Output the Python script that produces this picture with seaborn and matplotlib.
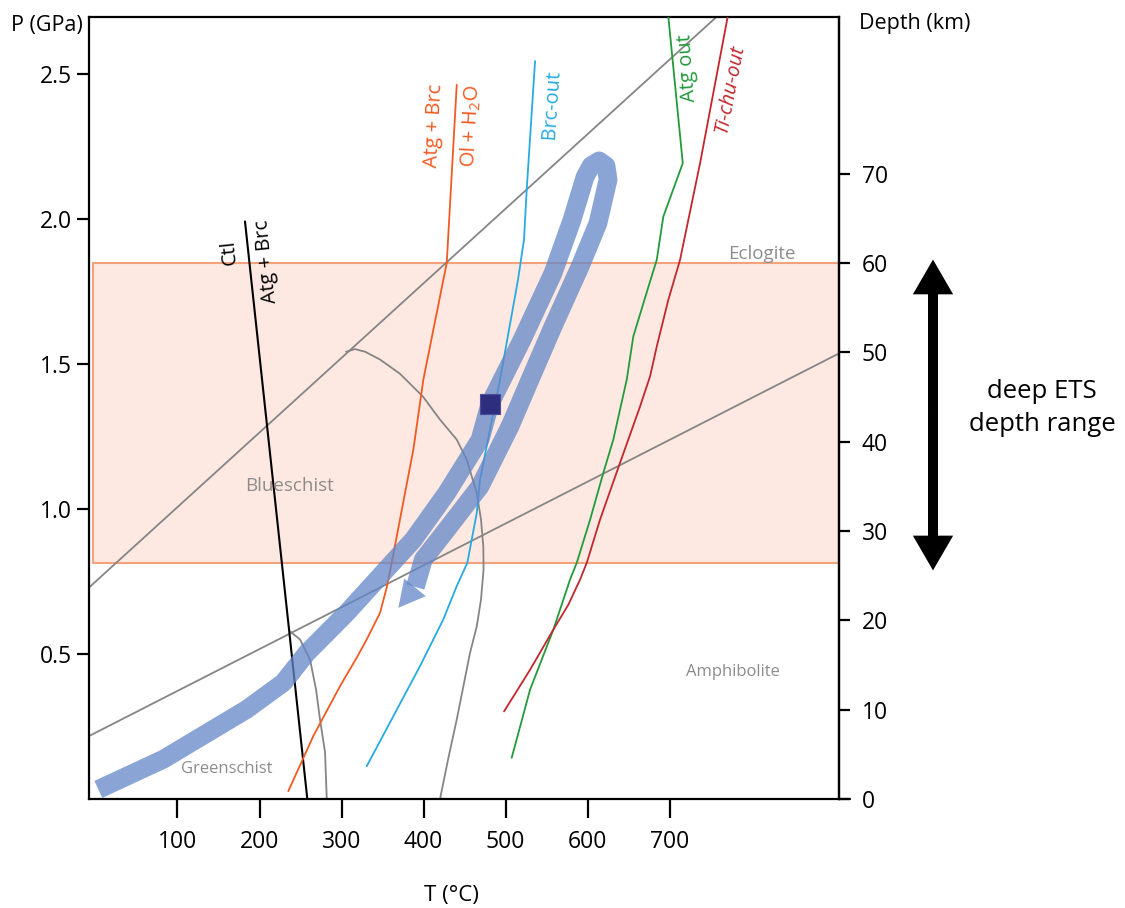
import numpy as np
import pandas as pd
import matplotlib
matplotlib.use("Agg")
import matplotlib.pyplot as plt
from matplotlib.patches import ArrowStyle
import seaborn as sns

# ---------------- data (T in °C, P in GPa) ----------------
KM_PER_GPA = 32.48

ctl_T = [182.3, 258.3]
ctl_P = [1.991, 0.0]

atg_brc_T = [440.5, 428.3, 399.8, 387.6, 371.3, 361.2, 355.1, 347.0, 330.7, 318.5, 298.2, 265.6, 235.1]
atg_brc_P = [2.462, 1.848, 1.446, 1.205, 0.964, 0.814, 0.729, 0.642, 0.550, 0.487, 0.389, 0.217, 0.027]

brc_out_T = [536.0, 525.8, 522.5, 515.2, 493.3, 485.1, 468.9, 464.9, 453.4, 440.5, 424.1, 395.7, 330.7]
brc_out_P = [2.544, 2.100, 1.928, 1.790, 1.446, 1.331, 1.101, 0.986, 0.814, 0.734, 0.619, 0.458, 0.113]

atg_out_T = [698.5, 716.1, 692.4, 684.4, 675.0, 655.8, 647.8, 631.4, 619.2, 603.0, 586.8, 578.6, 558.3, 529.9, 507.5]
atg_out_P = [2.697, 2.192, 2.008, 1.859, 1.773, 1.595, 1.446, 1.239, 1.124, 0.962, 0.814, 0.756, 0.584, 0.377, 0.142]

tichu_out_T = [770.9, 737.2, 712.8, 698.5, 684.4, 676.2, 664.0, 639.6, 615.2, 599.0, 590.8, 576.6, 558.3, 530.0, 498.2]
tichu_out_P = [2.697, 2.192, 1.859, 1.721, 1.560, 1.457, 1.353, 1.159, 0.963, 0.814, 0.756, 0.670, 0.584, 0.446, 0.302]

# metamorphic facies boundaries
facies_upper_T = [-7.9, 757.5]
facies_upper_P = [0.729, 2.697]
facies_lower_T = [-7.9, 905.8]
facies_lower_P = [0.217, 1.535]
facies_arc_T = [305.5, 316.5, 328.7, 347.0, 371.3, 399.4, 420.1, 440.5, 452.7, 464.9, 470.1,
                472.9, 473.2, 470.1, 464.9, 456.7, 440.5, 429.9, 420.1]
facies_arc_P = [1.542, 1.551, 1.542, 1.515, 1.466, 1.387, 1.308, 1.239, 1.170, 1.055, 0.963,
                0.870, 0.791, 0.688, 0.595, 0.504, 0.274, 0.136, 0.0]
facies_gs_T = [237.2, 249.4, 261.6, 268.9, 273.8, 279.9, 282.0]
facies_gs_P = [0.578, 0.550, 0.481, 0.378, 0.274, 0.161, 0.0]

# P-T path (prograde then retrograde)
path_T = [3.5, 82.7, 184.4, 229.0, 257.6, 306.4, 347.0, 387.6, 428.3, 468.9, 481.1, 520.1,
          557.9, 581.1, 597.0, 604.3, 614.1, 622.5, 625.0, 612.7, 590.8, 557.9, 529.9,
          505.5, 468.9, 428.3, 399.8, 390.0]
path_P = [0.033, 0.137, 0.309, 0.401, 0.503, 0.642, 0.768, 0.894, 1.055, 1.239, 1.363, 1.583,
          1.813, 1.997, 2.145, 2.183, 2.200, 2.183, 2.135, 1.985, 1.835, 1.629, 1.446,
          1.285, 1.078, 0.929, 0.826, 0.731]
path_tip = (369.3, 0.659)
ets_point = (481.1, 1.363)

# deep ETS depth range (km)
ets_band_km = [26.4, 60.0]
ets_arrow_km = [25.6, 60.4]

x_ticks = [100, 200, 300, 400, 500, 600, 700]
p_ticks = [0.5, 1.0, 1.5, 2.0, 2.5]
depth_ticks = [0, 10, 20, 30, 40, 50, 60, 70]

# ---------------- style ----------------
sns.set_theme(style="ticks", rc={
    "axes.edgecolor": "black", "xtick.color": "black", "ytick.color": "black",
    "text.color": "black", "axes.labelcolor": "black", "axes.linewidth": 1.6,
})
plt.rcParams["font.family"] = ["Open Sans", "DejaVu Sans"]
plt.rcParams["mathtext.fontset"] = "custom"
plt.rcParams["mathtext.rm"] = "Open Sans"

ORANGE = "#f15a22"
BLUE = "#27aae1"
GREEN = "#239a3b"
RED = "#c1272d"
GREY = "#858585"
GREY_TXT = "#8c8c8c"
PATH = "#6286c8"

fig = plt.figure(figsize=(11.25, 9.08), dpi=100)
ax = fig.add_axes([89 / 1125, 1 - 799 / 908, 750 / 1125, (799 - 16.7) / 908])
ax.set_xlim(-7.9, 906.6)
ax.set_ylim(0.0, 2.697)


def curve(T, P, color, lw, z, **kw):
    df = pd.DataFrame({"T": T, "P": P})
    sns.lineplot(data=df, x="T", y="P", sort=False, estimator=None, color=color,
                 linewidth=lw, ax=ax, zorder=z, **kw)


# ETS band
p_lo, p_hi = [d / KM_PER_GPA for d in ets_band_km]
ax.fill_between([-3.4, 906.6], [p_lo, p_lo], [p_hi, p_hi], facecolor="#fde9e1",
                edgecolor="#f4a27b", linewidth=1.5, zorder=1)

# facies boundaries
for T, P in [(facies_upper_T, facies_upper_P), (facies_lower_T, facies_lower_P),
             (facies_arc_T, facies_arc_P), (facies_gs_T, facies_gs_P)]:
    curve(T, P, GREY, 1.3, 2, solid_joinstyle="round")

# reaction curves
curve(ctl_T, ctl_P, "black", 1.5, 3)
curve(atg_brc_T, atg_brc_P, ORANGE, 1.3, 3, solid_joinstyle="round")
curve(brc_out_T, brc_out_P, BLUE, 1.3, 3, solid_joinstyle="round")
curve(atg_out_T, atg_out_P, GREEN, 1.3, 3, solid_joinstyle="round")
curve(tichu_out_T, tichu_out_P, RED, 1.3, 3, solid_joinstyle="round")

# P-T path with arrow head
curve(path_T, path_P, PATH, 13.5, 5, alpha=0.75,
      solid_capstyle="butt", solid_joinstyle="round")
ax.annotate("", xy=path_tip, xytext=(path_T[-1], path_P[-1]),
            arrowprops=dict(arrowstyle=ArrowStyle("-|>", head_length=19, head_width=10),
                            mutation_scale=1, color=PATH, alpha=0.75, lw=0,
                            shrinkA=0, shrinkB=0), zorder=5)

sns.scatterplot(x=[ets_point[0]], y=[ets_point[1]], marker="s", s=14.5 ** 2,
                color="#2e2e7e", edgecolor="#4c4c9c", linewidth=0.8, ax=ax, zorder=6)

# facies names
ax.text(237.0, 1.080, "Blueschist", color=GREY_TXT, fontsize=13.5, ha="center", va="center", zorder=4)
ax.text(160.3, 0.102, "Greenschist", color=GREY_TXT, fontsize=12, ha="center", va="center", zorder=4)
ax.text(777.2, 0.437, "Amphibolite", color=GREY_TXT, fontsize=12, ha="center", va="center", zorder=4)
ax.text(812.7, 1.880, "Eclogite", color=GREY_TXT, fontsize=13.5, ha="center", va="center", zorder=4)

# reaction labels
lab = dict(ha="center", va="center", fontsize=14.5, zorder=4)
ax.text(163.0, 1.885, "Ctl", color="black", rotation=96, **lab)
ax.text(208.6, 1.854, "Atg + Brc", color="black", rotation=96, **lab)
ax.text(413.5, 2.321, "Atg + Brc", color=ORANGE, rotation=87, **lab)
ax.text(458.5, 2.321, r"Ol + H$_2$O", color=ORANGE, rotation=87, **lab)
ax.text(556.0, 2.396, "Brc-out", color=BLUE, rotation=86, **lab)
ax.text(722.5, 2.519, "Atg out", color=GREEN, rotation=94, **lab)
ax.text(773.5, 2.447, "Ti-chu-out", color=RED, rotation=79, style="italic", **lab)

# axes
ax.set_xlabel("")
ax.set_ylabel("")
ax.set_xticks(x_ticks)
ax.set_yticks(p_ticks)
ax.set_yticklabels([f"{v:.1f}" for v in p_ticks])
ax.tick_params(axis="x", length=13.5, width=1.6, pad=9, labelsize=16.5)
ax.tick_params(axis="y", length=8.6, width=1.6, pad=3.6, labelsize=16.5)
for s in ax.spines.values():
    s.set_visible(True)
    s.set_linewidth(1.6)
ax.plot([1.0, 1.015], [0, 0], transform=ax.transAxes, color="black", lw=1.6, clip_on=False)

ax2 = ax.twinx()
ax2.set_ylim(0, 2.697 * KM_PER_GPA)
ax2.set_yticks(depth_ticks)
ax2.tick_params(axis="y", length=8, width=1.6, pad=8.4, labelsize=16.5)
for name, s in ax2.spines.items():
    s.set_visible(name == "right")
ax2.spines["right"].set_linewidth(1.6)
ax2.set_ylabel("")

fig.text(46.7 / 1125, 1 - 26 / 908, "P (GPa)", fontsize=15.5, ha="center", va="center")
fig.text(915 / 1125, 1 - 24 / 908, "Depth (km)", fontsize=15.5, ha="center", va="center")
fig.text(451 / 1125, 1 - 896 / 908, "T (°C)", fontsize=16, ha="center", va="center")

# deep ETS range arrow
x_arrow = 933 / 1125
mid = sum(ets_arrow_km) / 2
for end in ets_arrow_km:
    ax2.annotate("", xy=(x_arrow, end), xytext=(x_arrow, mid),
                 xycoords=("figure fraction", "data"), textcoords=("figure fraction", "data"),
                 arrowprops=dict(arrowstyle=ArrowStyle("simple", head_length=25, head_width=29,
                                                       tail_width=7.2),
                                 mutation_scale=1, color="black", lw=0, shrinkA=0, shrinkB=0),
                 annotation_clip=False)
fig.text(1042 / 1125, 1 - 408 / 908, "deep ETS\ndepth range", fontsize=18.5,
         ha="center", va="center", linespacing=1.45)

fig.savefig("out.png", dpi=100)
